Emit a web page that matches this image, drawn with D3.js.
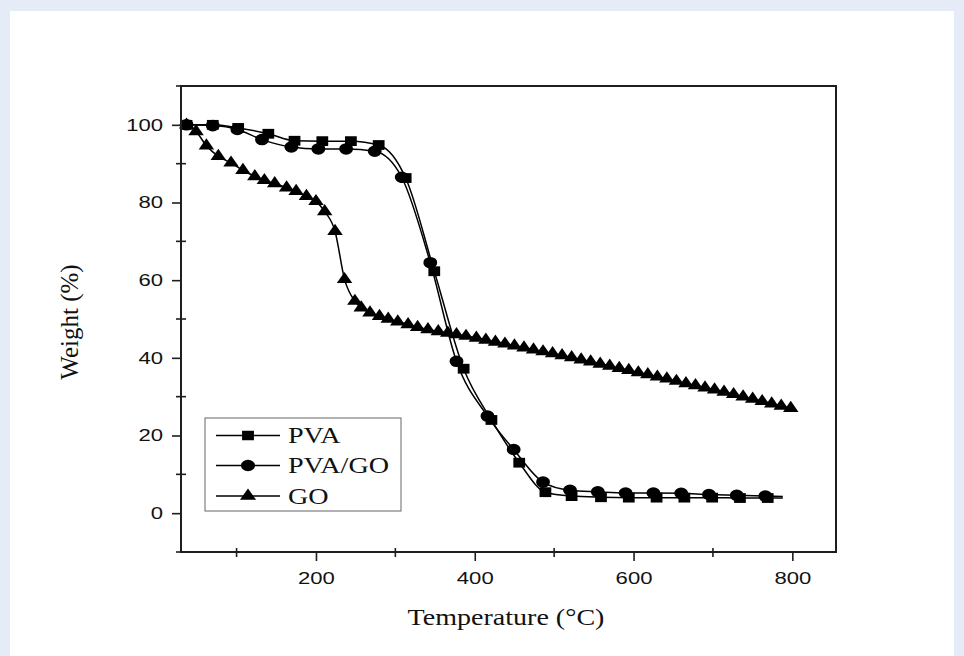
<!DOCTYPE html>
<html lang="en">
<head>
<meta charset="UTF-8">
<title>TGA curves</title>
<script src="https://d3js.org/d3.v7.min.js"></script>
<style>
  body { margin: 0; background: #e6ecf7; }
  svg { display: block; }
  .tick text { font-family: "Liberation Sans", Arial, sans-serif; font-size: 17px; fill: #111; }
  .tick line { stroke: #1e1e1e; stroke-width: 1.6; }
  .title { font-family: "Liberation Serif", "Times New Roman", serif; fill: #111; }
  .series { fill: none; stroke: #000; stroke-width: 1.5; }
</style>
</head>
<body>
<script>
// series: temperature (°C) and weight (%)
const pvaT = [37, 70, 102, 140, 173, 208, 244, 279, 313, 349, 386, 421, 456, 489, 522, 559, 594, 629, 664, 699, 734, 769, 788];
const pvaW = [100, 100, 99.2, 97.7, 95.9, 95.8, 95.8, 94.8, 86.3, 62.3, 37.2, 24.0, 13.0, 5.4, 4.4, 4.1, 4.0, 4.0, 4.0, 4.0, 3.9, 3.9, 3.9];

const pvagoT = [37, 70, 101, 132, 169, 203, 238, 274, 308, 344, 377, 416, 449, 486, 520, 555, 590, 625, 660, 695, 730, 766, 788];
const pvagoW = [100, 99.8, 98.8, 96.2, 94.3, 93.8, 93.8, 93.2, 86.5, 64.5, 39.1, 25.0, 16.4, 8.0, 5.9, 5.5, 5.2, 5.2, 5.1, 4.8, 4.6, 4.4, 4.3];

const goT = [37, 49, 62, 77, 93, 108, 123, 135, 148, 163, 175, 188, 200, 211, 224, 236, 249,
  257, 268, 280, 291, 303, 316, 328, 341, 354, 366, 377, 389, 402, 414, 426, 438, 450, 462, 474,
  486, 498, 510, 522, 534, 546, 558, 570, 582, 594, 606, 618, 630, 642, 654, 666, 678, 690, 702,
  714, 726, 738, 750, 762, 774, 786, 798];
const goW = [100, 98.3, 94.6, 91.9, 90.2, 88.3, 86.7, 85.7, 84.9, 83.8, 82.9, 81.6, 80.3, 77.7, 72.6, 60.2, 54.6,
  52.9, 51.6, 50.7, 50.0, 49.3, 48.6, 47.9, 47.3, 46.8, 46.4, 46.0, 45.6, 45.1, 44.6, 44.1, 43.6, 43.1, 42.6, 42.1,
  41.6, 41.1, 40.6, 40.1, 39.5, 39.0, 38.4, 37.9, 37.3, 36.8, 36.2, 35.7, 35.1, 34.6, 34.0, 33.4, 32.9, 32.3, 31.8,
  31.2, 30.6, 30.0, 29.4, 28.8, 28.2, 27.6, 27.0];

const seriesNames = ["PVA", "PVA/GO", "GO"];
const xMajor = [200, 400, 600, 800];
const xMinor = [100, 300, 500, 700];
const yMajor = [0, 20, 40, 60, 80, 100];
const yMinor = [-10, 10, 30, 50, 70, 90, 110];

const W = 964, H = 656;
const svg = d3.select("body").append("svg").attr("width", W).attr("height", H);
svg.append("rect").attr("width", W).attr("height", H).attr("fill", "#e6ecf7");
svg.append("rect").attr("x", 10).attr("y", 11).attr("width", 944).attr("height", H - 11).attr("fill", "#fff");

const x = d3.scaleLinear().domain([30, 855]).range([181, 836]);
const y = d3.scaleLinear().domain([-10, 110]).range([552, 86]);

// the original picture is stretched sideways, so text gets a horizontal scale too
function stretch(sel, k) {
  sel.each(function () {
    const t = d3.select(this);
    const x0 = +t.attr("x") || 0;
    t.attr("x", x0 / k).attr("transform", `scale(${k},1)`);
  });
}

const gx = svg.append("g").attr("transform", "translate(0,552)")
  .call(d3.axisBottom(x).tickValues(xMajor).tickSize(9).tickPadding(11).tickFormat(d3.format("d")));
gx.select(".domain").remove();
stretch(gx.selectAll("text"), 1.3);

const gy = svg.append("g").attr("transform", "translate(181,0)")
  .call(d3.axisLeft(y).tickValues(yMajor).tickSize(9).tickPadding(9).tickFormat(d3.format("d")));
gy.select(".domain").remove();
stretch(gy.selectAll("text"), 1.3);

// minor ticks cross the axis
svg.append("g").selectAll("line").data(xMinor).join("line")
  .attr("x1", d => x(d)).attr("x2", d => x(d)).attr("y1", 548).attr("y2", 557)
  .attr("stroke", "#1e1e1e").attr("stroke-width", 1.6);
svg.append("g").selectAll("line").data(yMinor).join("line")
  .attr("y1", d => y(d)).attr("y2", d => y(d)).attr("x1", 176).attr("x2", 186)
  .attr("stroke", "#1e1e1e").attr("stroke-width", 1.6);

const series = [
  { name: seriesNames[2], T: goT, Wt: goW, sym: d3.symbolTriangle, size: 72, tail: false },
  { name: seriesNames[1], T: pvagoT, Wt: pvagoW, sym: d3.symbolCircle, size: 105, tail: true },
  { name: seriesNames[0], T: pvaT, Wt: pvaW, sym: d3.symbolSquare, size: 96, tail: true }
];

const line = d3.line().x(d => x(d[0])).y(d => y(d[1])).curve(d3.curveMonotoneX);

series.forEach(s => {
  const pts = s.T.map((t, i) => [t, s.Wt[i]]);
  svg.append("path").attr("class", "series").attr("d", line(pts));
  const marks = s.tail ? pts.slice(0, -1) : pts;
  svg.append("g").selectAll("path").data(marks).join("path")
    .attr("d", d3.symbol().type(s.sym).size(s.size))
    .attr("transform", d => `translate(${x(d[0])},${y(d[1])}) scale(1.2,1)`)
    .attr("fill", "#000");
});

// frame
svg.append("rect").attr("x", 181).attr("y", 86).attr("width", 655).attr("height", 466)
  .attr("fill", "none").attr("stroke", "#1e1e1e").attr("stroke-width", 2);

// legend
const lg = svg.append("g");
lg.append("rect").attr("x", 205).attr("y", 418).attr("width", 196).attr("height", 93)
  .attr("fill", "#fff").attr("stroke", "#666").attr("stroke-width", 1);
const legendRows = [
  { name: seriesNames[0], sym: d3.symbolSquare, size: 90, cy: 435.5 },
  { name: seriesNames[1], sym: d3.symbolCircle, size: 100, cy: 465.5 },
  { name: seriesNames[2], sym: d3.symbolTriangle, size: 72, cy: 496 }
];
legendRows.forEach(r => {
  lg.append("line").attr("x1", 216).attr("x2", 280).attr("y1", r.cy).attr("y2", r.cy)
    .attr("stroke", "#000").attr("stroke-width", 1.6);
  lg.append("path").attr("d", d3.symbol().type(r.sym).size(r.size)())
    .attr("transform", `translate(248,${r.cy}) scale(1.25,1)`).attr("fill", "#000");
  const t = lg.append("text").attr("class", "title").attr("x", 288).attr("y", r.cy + 8)
    .style("font-size", "22.5px").text(r.name);
  stretch(t, 1.25);
});

// axis titles
const xt = svg.append("text").attr("class", "title").attr("x", 506).attr("y", 625)
  .attr("text-anchor", "middle").style("font-size", "23px").text("Temperature (°C)");
stretch(xt, 1.22);

svg.append("text").attr("class", "title")
  .attr("transform", "translate(78,322) rotate(-90)")
  .attr("text-anchor", "middle").style("font-size", "25px").text("Weight (%)");
</script>
</body>
</html>
